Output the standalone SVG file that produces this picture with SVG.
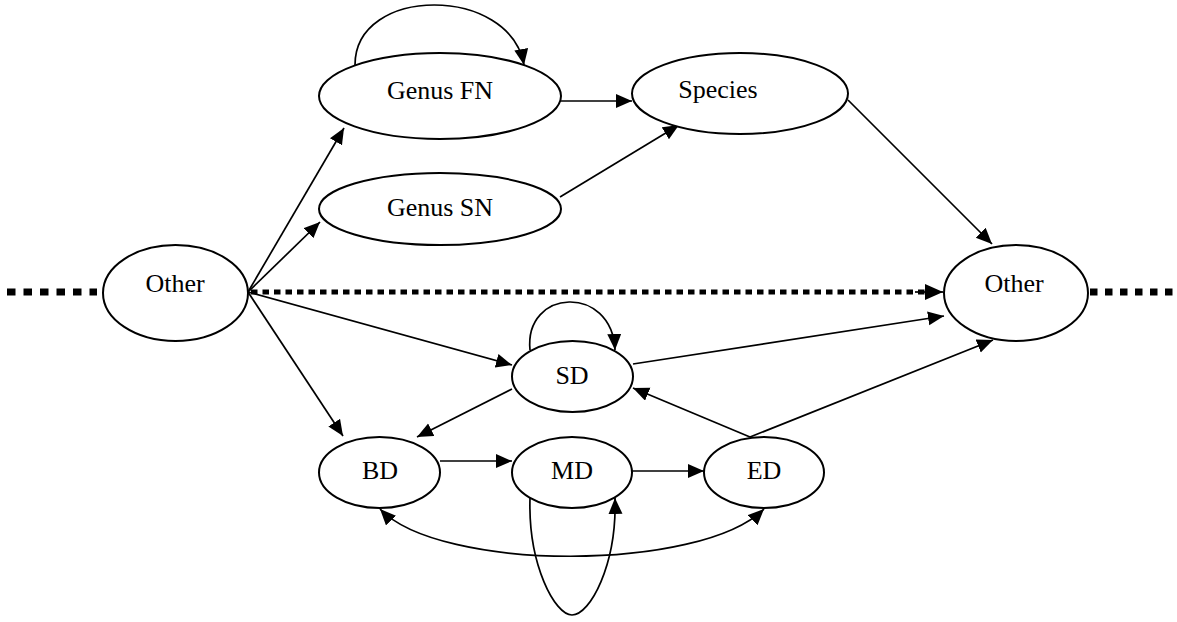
<svg xmlns="http://www.w3.org/2000/svg" width="1177" height="622" viewBox="0 0 1177 622">
<style>
.node ellipse{fill:#fff;stroke:#000;stroke-width:2}
.node text{font-family:"Liberation Serif","Times New Roman",serif;font-size:26px;fill:#000;text-anchor:middle}
.edge{fill:none;stroke:#000;stroke-width:1.7}
.dots{fill:none;stroke:#000}
</style>
<defs>
<marker id="ah" markerUnits="userSpaceOnUse" markerWidth="17" markerHeight="15" refX="16" refY="7" orient="auto-start-reverse">
<path d="M0,0 L16,7 L0,14 z" fill="#000"/>
</marker>
<marker id="ahb" markerUnits="userSpaceOnUse" markerWidth="19" markerHeight="17" refX="18" refY="8" orient="auto">
<path d="M0,0 L18,8 L0,16 z" fill="#000"/>
</marker>
</defs>
<g id="connectors">
<line class="dots" x1="7" y1="292" x2="97" y2="292" stroke-width="7" stroke-dasharray="8.5 8"/>
<line class="dots" x1="1090" y1="292" x2="1177" y2="292" stroke-width="7" stroke-dasharray="7.5 7.5"/>
<line class="dots" x1="251" y1="292" x2="925" y2="292" stroke-width="5" stroke-dasharray="6.5 5"/>
<line class="edge" x1="915" y1="292" x2="943" y2="292" stroke-width="3" marker-end="url(#ahb)"/>
<path class="edge" d="M355,65 C355,-15 510,-15 524,65" marker-end="url(#ah)"/>
<line class="edge" x1="560" y1="101" x2="632" y2="101" marker-end="url(#ah)"/>
<line class="edge" x1="560" y1="197" x2="679" y2="125" marker-end="url(#ah)"/>
<line class="edge" x1="848" y1="100" x2="992" y2="244" marker-end="url(#ah)"/>
<line class="edge" x1="248" y1="292" x2="344" y2="128" marker-end="url(#ah)"/>
<line class="edge" x1="248" y1="292" x2="320" y2="222" marker-end="url(#ah)"/>
<line class="edge" x1="248" y1="292" x2="512" y2="365" marker-end="url(#ah)"/>
<line class="edge" x1="248" y1="292" x2="343" y2="436" marker-end="url(#ah)"/>
<path class="edge" d="M530,350 C524,288 612,284 615,350" marker-end="url(#ah)"/>
<line class="edge" x1="512" y1="389" x2="417" y2="437" marker-end="url(#ah)"/>
<line class="edge" x1="633" y1="364" x2="944" y2="316" marker-end="url(#ah)"/>
<line class="edge" x1="750" y1="437" x2="633" y2="388" marker-end="url(#ah)"/>
<line class="edge" x1="750" y1="437" x2="993" y2="340" marker-end="url(#ah)"/>
<line class="edge" x1="440" y1="461" x2="512" y2="461" marker-end="url(#ah)"/>
<line class="edge" x1="632" y1="471" x2="704" y2="471" stroke-width="2.4" marker-end="url(#ah)"/>
<path class="edge" d="M380,509 C440,572 700,572 764,509" marker-start="url(#ah)" marker-end="url(#ah)"/>
<path class="edge" d="M530,498 C528,565 555,615 572,615 C590,615 617,565 615,498" marker-end="url(#ah)"/>
</g>
<g id="genus-fn" class="node"><ellipse cx="440" cy="96" rx="121" ry="43"/><text x="440" y="99">Genus FN</text></g>
<g id="genus-sn" class="node"><ellipse cx="440" cy="209" rx="121" ry="36"/><text x="440" y="216">Genus SN</text></g>
<g id="species" class="node"><ellipse cx="740" cy="93.5" rx="108" ry="40.5"/><text x="718" y="98">Species</text></g>
<g id="other-left" class="node"><ellipse cx="175.5" cy="293" rx="72.5" ry="48"/><text x="175" y="292">Other</text></g>
<g id="other-right" class="node"><ellipse cx="1016" cy="293" rx="72" ry="48"/><text x="1014" y="292">Other</text></g>
<g id="sd" class="node"><ellipse cx="572.5" cy="376.5" rx="60.5" ry="35.5"/><text x="572" y="384">SD</text></g>
<g id="bd" class="node"><ellipse cx="379.5" cy="472.5" rx="60.5" ry="35.5"/><text x="380" y="479">BD</text></g>
<g id="md" class="node"><ellipse cx="572" cy="472.5" rx="60" ry="35.5"/><text x="572" y="479">MD</text></g>
<g id="ed" class="node"><ellipse cx="764" cy="472.5" rx="60" ry="35.5"/><text x="764" y="479">ED</text></g>
</svg>
